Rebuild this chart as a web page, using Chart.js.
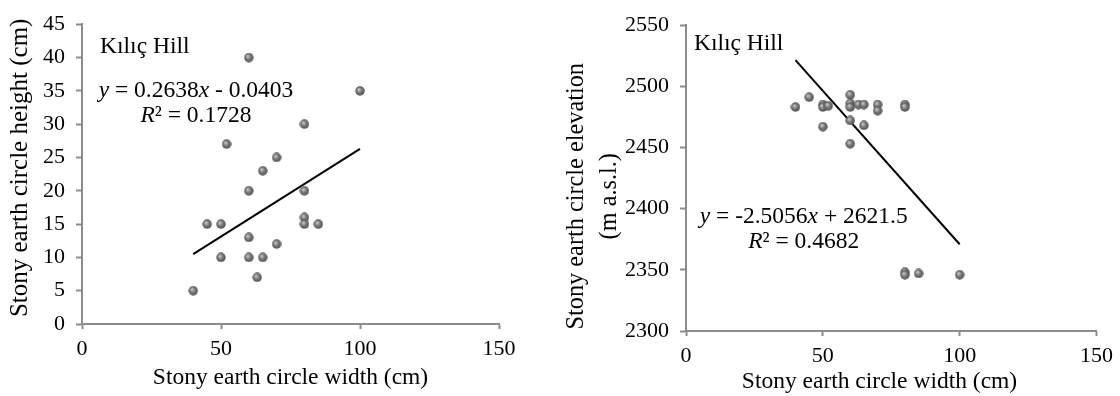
<!DOCTYPE html>
<html>
<head>
<meta charset="utf-8">
<script src="https://cdn.jsdelivr.net/npm/chart.js@4.4.1/dist/chart.umd.min.js"></script>
<style>
  body { margin:0; background:#fff; }
  #wrap { width:1120px; height:396px; position:relative; }
  canvas { position:absolute; top:0; }
</style>
</head>
<body>
<div id="wrap">
  <canvas id="leftChart" width="560" height="396" style="left:0"></canvas>
  <canvas id="rightChart" width="560" height="396" style="left:560px"></canvas>
</div>
<script>
// width of stony earth circles (cm) - left plot
var widthA  = [40,45,50,50,52,60,60,60,60,63,65,65,70,70,80,80,80,80,85,100];
var heightA = [5,15,15,10,27,40,20,13,10,7,23,10,25,12,30,20,16,15,15,35];
// right plot
var widthB = [40,45,50,50,50,52,60,60,60,60,60,63,65,65,70,70,80,80,80,80,85,100];
var elevB  = [2483,2491,2485,2483,2467,2484,2493,2486,2483,2472,2453,2485,2485,2468,2485,2480,2485,2483,2348,2346,2347,2346];
// trend line ends
var trendA = [[40,10.5],[100,26.3]];
var trendB = [[40,2521.3],[100,2370.9]];

var xTitle = 'Stony earth circle width (cm)';
var yTitleA = '  Stony earth circle height (cm)';
var yTitleB = ['Stony earth circle elevation      ', '(m a.s.l.)      '];

var FONT = '"Liberation Serif", "Times New Roman", serif';

// sphere-looking marker
function makeBall(){
  var c = document.createElement('canvas');
  c.width = 10; c.height = 10;
  var g = c.getContext('2d');
  var grd = g.createRadialGradient(3.8,3.6,0.5,5,5,5);
  grd.addColorStop(0,'#c4c4c4');
  grd.addColorStop(0.45,'#7a7a7a');
  grd.addColorStop(1,'#4a4a4a');
  g.fillStyle = grd;
  g.beginPath(); g.arc(5,5,4.7,0,Math.PI*2); g.fill();
  return c;
}
var ball = makeBall();

function toPts(xs, ys){
  var out = [];
  for (var i=0;i<xs.length;i++) out.push({x:xs[i], y:ys[i]});
  return out;
}

function drawRuns(ctx, runs, x, y, align){
  var w = 0;
  runs.forEach(function(r){
    ctx.font = (r[1] ? 'italic ' : '') + '23.5px ' + FONT;
    w += ctx.measureText(r[0]).width;
  });
  var cx = align === 'center' ? x - w/2 : x;
  runs.forEach(function(r){
    ctx.font = (r[1] ? 'italic ' : '') + '23.5px ' + FONT;
    ctx.fillText(r[0], cx, y);
    cx += ctx.measureText(r[0]).width;
  });
}

var notesPlugin = {
  id: 'notes',
  afterDatasetsDraw: function(chart, args, opts){
    var ctx = chart.ctx;
    var xs = chart.scales.x, ys = chart.scales.y;
    ctx.save();
    ctx.fillStyle = '#000';
    ctx.textBaseline = 'middle';
    ctx.textAlign = 'left';
    (opts.items || []).forEach(function(it){
      drawRuns(ctx, it.runs, xs.getPixelForValue(it.x), ys.getPixelForValue(it.y), it.align);
    });
    ctx.restore();
  }
};

function makeChart(id, pts, trend, yMin, yMax, yStep, yTitle, yTitleFont, yTitlePad, xTitleText, xTitlePad, dims, notes){
  return new Chart(document.getElementById(id), {
    type: 'scatter',
    data: {
      datasets: [{
        data: pts,
        pointStyle: ball,
        pointRadius: 5,
        pointHoverRadius: 5
      }, {
        type: 'line',
        data: trend.map(function(p){ return {x:p[0], y:p[1]}; }),
        borderColor: '#000',
        borderWidth: 2,
        pointRadius: 0,
        fill: false
      }]
    },
    options: {
      responsive: false,
      animation: false,
      layout: { padding: dims.pad },
      plugins: { legend: {display:false}, tooltip: {enabled:false}, notes: {items: notes} },
      scales: {
        x: {
          type: 'linear', min: 0, max: 150,
          ticks: { stepSize: 50, color: '#000', padding: 7, font: {family: FONT, size: 22} },
          grid: { drawOnChartArea: false, tickLength: 5, tickColor: '#8c8c8c', tickWidth: 2 },
          border: { color: '#8c8c8c', width: 2 },
          title: { display: true, text: xTitleText, color: '#000', padding: {top:0, bottom: xTitlePad}, font: {family: FONT, size: 23.5} },
          afterFit: function(s){ s.height = dims.xh; }
        },
        y: {
          min: yMin, max: yMax,
          ticks: { stepSize: yStep, color: '#000', padding: 11, font: {family: FONT, size: 22},
                   callback: function(v){ return String(v); } },
          grid: { drawOnChartArea: false, tickLength: 6, tickColor: '#8c8c8c', tickWidth: 2 },
          border: { color: '#8c8c8c', width: 2 },
          title: { display: true, text: yTitle, color: '#000', padding: {top: yTitlePad, bottom: 0}, font: yTitleFont },
          afterFit: function(s){ s.width = dims.yw; }
        }
      }
    },
    plugins: [notesPlugin]
  });
}

makeChart('leftChart', toPts(widthA, heightA), trendA, 0, 45, 5, yTitleA,
  {family: FONT, size: 25, lineHeight: 1.2}, 5, xTitle, 4,
  { pad: {top:18, right:61, left:0, bottom:0}, xh: 72, yw: 82 },
  [
    { x: 6.5, y: 41.6, align: 'left', runs: [['Kılıç Hill', false]] },
    { x: 41, y: 35, align: 'center', runs: [['y', true], [' = 0.2638', false], ['x', true], [' - 0.0403', false]] },
    { x: 41, y: 31.3, align: 'center', runs: [['R', true], ['² = 0.1728', false]] }
  ]);

makeChart('rightChart', toPts(widthB, elevB), trendB, 2300, 2550, 50, yTitleB,
  {family: FONT, size: 24.3, lineHeight: '33px'}, 0.5, xTitle + '    ', 0,
  { pad: {top:25, right:20, left:0, bottom:0}, xh: 65, yw: 126 },
  [
    { x: 2.9, y: 2535, align: 'left', runs: [['Kılıç Hill', false]] },
    { x: 43, y: 2393, align: 'center', runs: [['y', true], [' = -2.5056', false], ['x', true], [' + 2621.5', false]] },
    { x: 43, y: 2372.7, align: 'center', runs: [['R', true], ['² = 0.4682', false]] }
  ]);
</script>
</body>
</html>
